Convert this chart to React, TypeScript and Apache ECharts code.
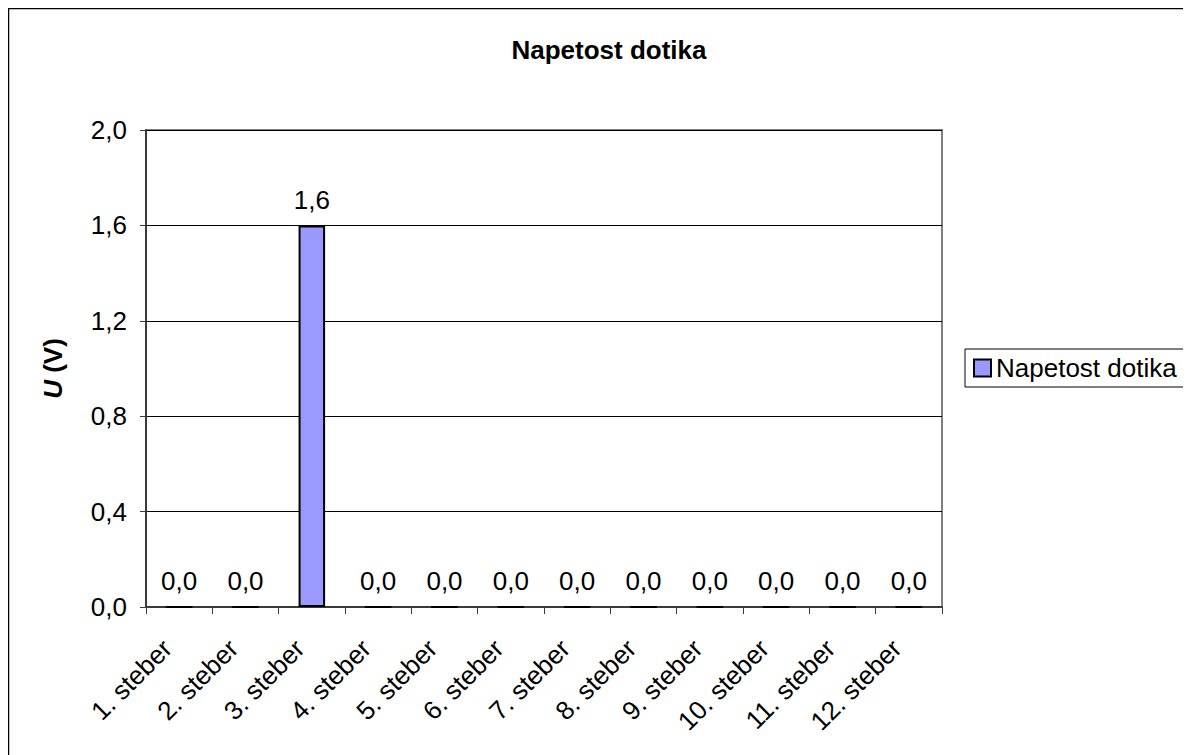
import React, { useEffect, useRef } from "react";
import * as echarts from "echarts";

const categories = [
  "1. steber", "2. steber", "3. steber", "4. steber", "5. steber", "6. steber",
  "7. steber", "8. steber", "9. steber", "10. steber", "11. steber", "12. steber",
];
const voltages = [0.0, 0.0, 1.6, 0.0, 0.0, 0.0, 0.0, 0.0, 0.0, 0.0, 0.0, 0.0];
const seriesName = "Napetost dotika";
const chartTitle = "Napetost dotika";

const FONT = "'Liberation Sans', Arial, sans-serif";
const FS = 26;
const fmt = (v: number) => v.toFixed(1).replace(".", ",");

export default function App() {
  const ref = useRef<HTMLDivElement>(null);

  useEffect(() => {
    if (!ref.current) return;
    const chart = echarts.init(ref.current, undefined, { renderer: "svg" });
    chart.setOption({
      animation: false,
      backgroundColor: "#ffffff",
      textStyle: { fontFamily: FONT },
      title: {
        text: chartTitle,
        left: 596,
        top: 24,
        textAlign: "center",
        textStyle: { fontFamily: FONT, fontSize: FS, fontWeight: "bold", color: "#000" },
      },
      legend: {
        orient: "vertical",
        left: 957,
        top: 341,
        borderColor: "#000",
        borderWidth: 1,
        padding: [6, 12, 6, 8],
        icon: "rect",
        itemWidth: 17,
        itemHeight: 17,
        itemGap: 5,
        itemStyle: { borderColor: "#000", borderWidth: 2 },
        textStyle: { fontFamily: FONT, fontSize: FS, color: "#000", padding: [0, 0, 0, 0] },
        data: [seriesName],
      },
      graphic: [
        {
          type: "rect",
          shape: { x: 0.5, y: 0.5, width: 1400, height: 1000 },
          style: { fill: "none", stroke: "#000", lineWidth: 1.5 },
          silent: true,
        },
      ],
      grid: {
        left: 138,
        top: 122,
        width: 796,
        height: 477,
        show: true,
        borderColor: "#808080",
        borderWidth: 2,
        backgroundColor: "transparent",
      },
      xAxis: {
        type: "category",
        data: categories,
        boundaryGap: true,
        axisLine: { show: true, lineStyle: { color: "#3a3a3a", width: 2 } },
        axisTick: { show: true, alignWithLabel: false, length: 7, lineStyle: { color: "#3a3a3a", width: 1 } },
        axisLabel: {
          interval: 0,
          rotate: 45,
          margin: 25,
          padding: [0, 17, 0, 0],
          fontFamily: FONT,
          fontSize: FS,
          color: "#000",
        },
      },
      yAxis: {
        type: "value",
        min: 0,
        max: 2,
        interval: 0.4,
        name: "{i|U}{b| (V)}",
        nameLocation: "middle",
        nameRotate: 90,
        nameGap: 80,
        nameTextStyle: {
          rich: {
            i: { fontFamily: FONT, fontSize: FS, fontWeight: "bold", fontStyle: "italic", color: "#000" },
            b: { fontFamily: FONT, fontSize: FS, fontWeight: "bold", color: "#000" },
          },
        },
        axisLine: { show: true, lineStyle: { color: "#3a3a3a", width: 2 } },
        axisTick: { show: true, length: 6, lineStyle: { color: "#3a3a3a", width: 1 } },
        splitLine: { show: true, lineStyle: { color: "#000", width: 1 } },
        axisLabel: {
          margin: 19,
          fontFamily: FONT,
          fontSize: FS,
          color: "#000",
          formatter: (v: number) => fmt(v),
        },
      },
      series: [
        {
          name: seriesName,
          type: "bar",
          data: voltages,
          barWidth: "40%",
          itemStyle: { color: "#9999FF", borderColor: "#000", borderWidth: 2 },
          label: {
            show: true,
            position: "top",
            distance: 12,
            fontFamily: FONT,
            fontSize: FS,
            color: "#000",
            formatter: (p: any) => fmt(p.value),
          },
        },
      ],
    });
    return () => chart.dispose();
  }, []);

  return <div ref={ref} style={{ width: 1183, height: 747 }} />;
}
